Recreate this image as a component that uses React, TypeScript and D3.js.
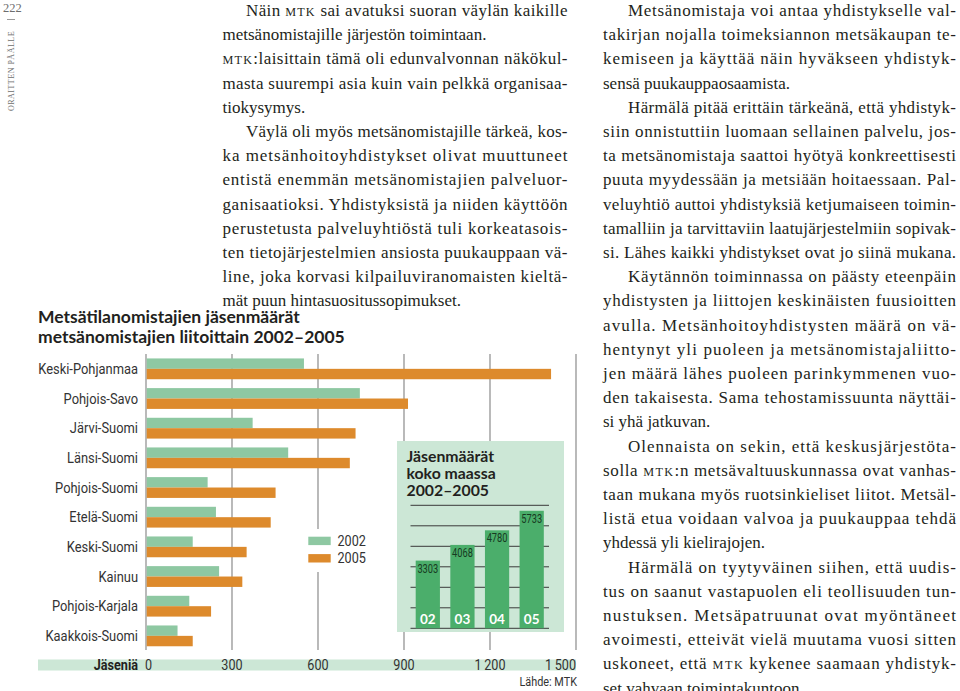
import React from 'react';
import * as d3 from 'd3';

// ---------- data ----------
const regions = [
  'Keski-Pohjanmaa', 'Pohjois-Savo', 'Järvi-Suomi', 'Länsi-Suomi', 'Pohjois-Suomi',
  'Etelä-Suomi', 'Keski-Suomi', 'Kainuu', 'Pohjois-Karjala', 'Kaakkois-Suomi',
];
const members2002 = [551, 746, 372, 496, 215, 244, 163, 255, 151, 110];
const members2005 = [1413, 914, 731, 711, 452, 435, 351, 336, 227, 163];
const seriesNames = ['2002', '2005'];
const xTicks = [0, 300, 600, 900, 1200, 1500];

const totalYears = ['02', '03', '04', '05'];
const totals = [3303, 4068, 4780, 5733];
const totalGrid = [0, 1000, 2000, 3000, 4000, 5000, 6000];

const chartTitle = ['Metsätilanomistajien jäsenmäärät', 'metsänomistajien liitoittain 2002–2005'];
const insetTitle = ['Jäsenmäärät', 'koko maassa', '2002–2005'];

type Line = { t: string; ind?: boolean; j?: boolean };
const column1: Line[] = [
  { t: 'Näin MTK sai avatuksi suoran väylän kaikille', ind: true, j: true },
  { t: 'metsänomistajille järjestön toimintaan.' },
  { t: 'MTK:laisittain tämä oli edunvalvonnan näkökul-', j: true },
  { t: 'masta suurempi asia kuin vain pelkkä organisaa-', j: true },
  { t: 'tiokysymys.' },
  { t: 'Väylä oli myös metsänomistajille tärkeä, kos-', ind: true, j: true },
  { t: 'ka metsänhoitoyhdistykset olivat muuttuneet', j: true },
  { t: 'entistä enemmän metsänomistajien palveluor-', j: true },
  { t: 'ganisaatioksi. Yhdistyksistä ja niiden käyttöön', j: true },
  { t: 'perustetusta palveluyhtiöstä tuli korkeatasois-', j: true },
  { t: 'ten tietojärjestelmien ansiosta puukauppaan vä-', j: true },
  { t: 'line, joka korvasi kilpailuviranomaisten kieltä-', j: true },
  { t: 'mät puun hintasuositussopimukset.' },
];
const column2: Line[] = [
  { t: 'Metsänomistaja voi antaa yhdistykselle val-', ind: true, j: true },
  { t: 'takirjan nojalla toimeksiannon metsäkaupan te-', j: true },
  { t: 'kemiseen ja käyttää näin hyväkseen yhdistyk-', j: true },
  { t: 'sensä puukauppaosaamista.' },
  { t: 'Härmälä pitää erittäin tärkeänä, että yhdistyk-', ind: true, j: true },
  { t: 'siin onnistuttiin luomaan sellainen palvelu, jos-', j: true },
  { t: 'ta metsänomistaja saattoi hyötyä konkreettisesti', j: true },
  { t: 'puuta myydessään ja metsiään hoitaessaan. Pal-', j: true },
  { t: 'veluyhtiö auttoi yhdistyksiä ketjumaiseen toimin-', j: true },
  { t: 'tamalliin ja tarvittaviin laatujärjestelmiin sopivak-', j: true },
  { t: 'si. Lähes kaikki yhdistykset ovat jo siinä mukana.', j: true },
  { t: 'Käytännön toiminnassa on päästy eteenpäin', ind: true, j: true },
  { t: 'yhdistysten ja liittojen keskinäisten fuusioitten', j: true },
  { t: 'avulla. Metsänhoitoyhdistysten määrä on vä-', j: true },
  { t: 'hentynyt yli puoleen ja metsänomistajaliitto-', j: true },
  { t: 'jen määrä lähes puoleen parinkymmenen vuo-', j: true },
  { t: 'den takaisesta. Sama tehostamissuunta näyttäi-', j: true },
  { t: 'si yhä jatkuvan.' },
  { t: 'Olennaista on sekin, että keskusjärjestöta-', ind: true, j: true },
  { t: 'solla MTK:n metsävaltuuskunnassa ovat vanhas-', j: true },
  { t: 'taan mukana myös ruotsinkieliset liitot. Metsäl-', j: true },
  { t: 'listä etua voidaan valvoa ja puukauppaa tehdä', j: true },
  { t: 'yhdessä yli kielirajojen.' },
  { t: 'Härmälä on tyytyväinen siihen, että uudis-', ind: true, j: true },
  { t: 'tus on saanut vastapuolen eli teollisuuden tun-', j: true },
  { t: 'nustuksen. Metsäpatruunat ovat myöntäneet', j: true },
  { t: 'avoimesti, etteivät vielä muutama vuosi sitten', j: true },
  { t: 'uskoneet, että MTK kykenee saamaan yhdistyk-', j: true },
  { t: 'set vahvaan toimintakuntoon.' },
];

// ---------- styles ----------
const W = 960;
const H = 691;
const GREEN = '#8ec8a2';
const ORANGE = '#dd8a2c';
const DARK_GREEN = '#4bae6b';
const MINT = '#cce7d6';
const GRID = '#9c9c9c';
const SERIF = "'Liberation Serif', 'Times New Roman', serif";
const COND = "Roboto, 'Noto Sans', sans-serif";
const BOLD = "Lato, 'Open Sans', sans-serif";
const SQ = 0.87; // horizontal squeeze to mimic a condensed face

const fmt = d3.formatLocale({ decimal: ',', thousands: '\u2009', grouping: [3], currency: ['', ''] }).format(',');

function richText(s: string) {
  const parts = s.split('MTK');
  const out: React.ReactNode[] = [];
  parts.forEach((p, i) => {
    if (i > 0) out.push(<tspan key={'m' + i} fontSize={12.2} letterSpacing={0.8}>MTK</tspan>);
    out.push(<tspan key={'p' + i}>{p}</tspan>);
  });
  return out;
}

function Column({ lines, x, right, indent, y0, step }: { lines: Line[]; x: number; right: number; indent: number; y0: number; step: number }) {
  return (
    <g fontFamily={SERIF} fontSize={17} fill="#231f20">
      {lines.map((l, i) => {
        const lx = x + (l.ind ? indent : 0);
        const props: any = {};
        if (l.j) {
          props.textLength = right - lx;
          props.lengthAdjust = 'spacing';
        }
        return (
          <text key={i} x={lx} y={y0 + i * step} {...props}>
            {richText(l.t)}
          </text>
        );
      })}
    </g>
  );
}

function CondText({ x, y, anchor, size, weight, fill, sq, children }: any) {
  return (
    <text transform={`translate(${x},${y}) scale(${sq ?? SQ},1)`} textAnchor={anchor || 'start'}
      fontFamily={COND} fontSize={size} fontWeight={weight || 400} fill={fill || '#333'}>
      {children}
    </text>
  );
}

export default function App() {
  const x = d3.scaleLinear().domain([0, 1500]).range([146, 576]);
  const y = d3.scaleBand<string>().domain(regions).range([354, 650.7]);
  const barH = 10.4;
  const gridTop = 354;
  const gridBottom = 650;

  const iy = d3.scaleLinear().domain([0, 6000]).range([628.3, 505.3]);
  const ix = d3.scaleBand<string>().domain(totalYears).range([410.5, 549]).paddingInner(0.3).paddingOuter(0.15);

  return (
    <svg width={W} height={H} style={{ position: 'absolute', left: 0, top: 0, background: '#fff' }}>
      <rect x={0} y={0} width={W} height={H} fill="#fff" />

      {/* margin */}
      <text x={3} y={12} fontFamily={SERIF} fontSize={12.5} fill="#6d6d6d">222</text>
      <line x1={7} x2={15} y1={19.5} y2={19.5} stroke="#9a9a9a" strokeWidth={1} />
      <text transform="translate(14.2,71) rotate(-90)" textAnchor="middle" fontFamily={SERIF} fontSize={8}
        letterSpacing={0.5} fill="#6d6d6d">ORAITTEN PÄÄLLE</text>

      {/* body text */}
      <Column lines={column1} x={222.5} right={567.5} indent={23.5} y0={16} step={24.2} />
      <Column lines={column2} x={603} right={956} indent={25} y0={16} step={24.2} />

      {/* chart title */}
      <g fontFamily={BOLD} fontWeight={700} fontSize={17.5} fill="#231f20">
        {chartTitle.map((t, i) => (
          <text key={i} x={38} y={323 + i * 19.5}>{t}</text>
        ))}
      </g>

      {/* gridlines */}
      {xTicks.map((t) => (
        <line key={t} x1={x(t)} x2={x(t)} y1={gridTop} y2={gridBottom} stroke={GRID} strokeWidth={1.4} />
      ))}

      {/* bars */}
      {regions.map((r, i) => {
        const c = (y(r) as number) + y.bandwidth() / 2;
        return (
          <g key={r}>
            <rect x={x(0) + 0.7} y={c - barH} width={x(members2002[i]) - x(0) - 0.7} height={barH} fill={GREEN} />
            <rect x={x(0) + 0.7} y={c} width={x(members2005[i]) - x(0) - 0.7} height={barH} fill={ORANGE} />
            <CondText x={138} y={c + 5} anchor="end" size={14.5} sq={0.89}>{r}</CondText>
          </g>
        );
      })}

      {/* legend */}
      <rect x={300} y={529} width={92} height={43} fill="#fff" />
      {seriesNames.map((s, i) => (
        <g key={s}>
          <rect x={308.3} y={536.7 + i * 17.4} width={22.4} height={8.4} fill={i === 0 ? GREEN : ORANGE} />
          <CondText x={337.5} y={546 + i * 17.4} size={14.5}>{s}</CondText>
        </g>
      ))}

      {/* x axis band */}
      <rect x={38} y={659.5} width={x(1500) - 38} height={11} fill={MINT} />
      <CondText x={138} y={670} anchor="end" size={14.5} weight={700} fill="#231f20">Jäseniä</CondText>
      {xTicks.map((t, i) => (
        <CondText key={t} x={i === 0 ? x(t) - 1 : x(t)} y={670}
          anchor={i === 0 ? 'start' : i === xTicks.length - 1 ? 'end' : 'middle'} size={14.5}>{fmt(t)}</CondText>
      ))}
      <CondText x={577} y={686} anchor="end" size={12.5}>Lähde: MTK</CondText>

      {/* inset */}
      <rect x={397} y={441} width={167} height={191} fill={MINT} />
      <g fontFamily={BOLD} fontWeight={700} fontSize={15.8} fill="#231f20">
        {insetTitle.map((t, i) => (
          <text key={i} x={406.5} y={462 + i * 16.8}>{t}</text>
        ))}
      </g>
      {totalGrid.map((g) => (
        <line key={g} x1={410.5} x2={549} y1={iy(g)} y2={iy(g)} stroke="#3a3a3a" strokeWidth={1} />
      ))}
      {totalYears.map((yr, i) => {
        const bx = ix(yr) as number;
        const bw = ix.bandwidth();
        return (
          <g key={yr}>
            <rect x={bx} y={iy(totals[i])} width={bw} height={iy(0) - iy(totals[i])} fill={DARK_GREEN} />
            <CondText x={bx + bw / 2} y={iy(totals[i]) + 12} anchor="middle" size={12.2} sq={0.76} fill="#173a22">{totals[i]}</CondText>
            <text x={bx + bw / 2} y={624} textAnchor="middle" fontFamily={BOLD} fontWeight={700} fontSize={13.5} fill="#fff">{yr}</text>
          </g>
        );
      })}
    </svg>
  );
}
